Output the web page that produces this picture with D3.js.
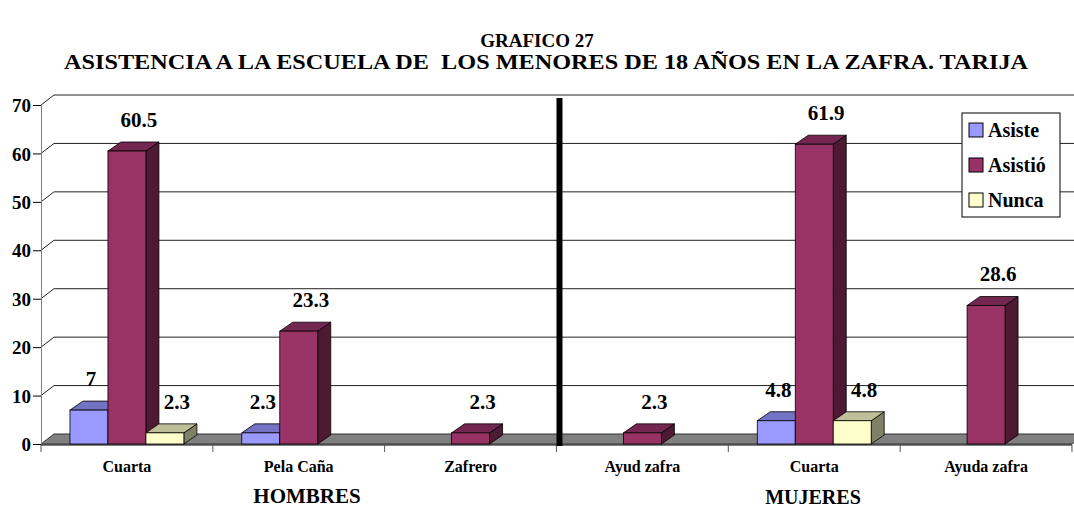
<!DOCTYPE html>
<html>
<head>
<meta charset="utf-8" />
<title>Grafico 27</title>
<script src="https://cdn.jsdelivr.net/npm/d3@7"></script>
<style>
  body { margin: 0; background: #fff; }
  .grid { stroke: #222; stroke-width: 1; fill: none; }
</style>
</head>
<body>
<div id="chart"></div>
<script>
var categories = ["Cuarta", "Pela Caña", "Zafrero", "Ayud zafra", "Cuarta", "Ayuda zafra"];
var groups = ["HOMBRES", "MUJERES"];
var seriesNames = ["Asiste", "Asistió", "Nunca"];
var asiste = [7, 2.3, null, null, 4.8, null];
var asistio = [60.5, 23.3, 2.3, 2.3, 61.9, 28.6];
var nunca = [2.3, null, null, null, 4.8, null];
var yTicks = [0, 10, 20, 30, 40, 50, 60, 70];

var seriesValues = [asiste, asistio, nunca];
var colors = [
  {front: "#9999ff", top: "#7373c4", side: "#4d4d80"},
  {front: "#993366", top: "#732650", side: "#4d1933"},
  {front: "#ffffcc", top: "#bfbf99", side: "#808066"}
];

var width = 1074, height = 509;
var left = 41, right = 1072, bottom = 444, topY = 105;
var dx = 13, dy = -10;   // wall depth
var bdx = 13, bdy = -9;  // bar depth

var svg = d3.select("#chart").append("svg")
    .attr("width", width)
    .attr("height", height);

var y = d3.scaleLinear().domain([0, 70]).range([bottom, topY]);
var x0 = d3.scaleBand().domain(d3.range(categories.length)).range([left, right])
    .paddingInner(0.337).paddingOuter(0.1686);
var x1 = d3.scaleBand().domain(d3.range(seriesNames.length)).range([0, x0.bandwidth()]);
var step = x0.step();
var boundary = function(i) { return left + i * step; };

// titles
svg.append("text").attr("x", 537).attr("y", 47).attr("text-anchor", "middle")
    .style("font-size", "19px").text("GRAFICO 27");
svg.append("text").attr("x", 546).attr("y", 69).attr("text-anchor", "middle")
    .style("font-size", "20px").attr("xml:space", "preserve")
    .attr("textLength", 964).attr("lengthAdjust", "spacingAndGlyphs")
    .text("ASISTENCIA A LA ESCUELA DE  LOS MENORES DE 18 AÑOS EN LA ZAFRA. TARIJA");

// floor
svg.append("path")
    .attr("d", "M" + left + "," + bottom + "L" + right + "," + bottom +
      "L" + (right + dx) + "," + (bottom + dy) + "L" + (left + dx) + "," + (bottom + dy) + "Z")
    .attr("fill", "#808080").attr("stroke", "#333").attr("stroke-width", 1);

// gridlines on the back wall
svg.selectAll(".grid").data(yTicks.slice(1)).enter().append("path")
    .attr("class", "grid")
    .attr("d", function(d) {
      return "M" + left + "," + y(d) + "L" + (left + dx) + "," + (y(d) + dy) + "L" + (right + dx) + "," + (y(d) + dy);
    });

// y axis
var yAxis = svg.append("g").attr("transform", "translate(" + left + ",0)")
    .call(d3.axisLeft(y).tickValues(yTicks).tickSize(8).tickPadding(2));
yAxis.select(".domain").attr("stroke", "#808080");
yAxis.selectAll(".tick line").attr("stroke", "#000");
yAxis.selectAll("text").style("font-size", "19px").attr("dy", "0.35em");

// x axis line and ticks
svg.append("line").attr("x1", left).attr("x2", right).attr("y1", bottom + 1).attr("y2", bottom + 1)
    .attr("stroke", "#000");
svg.selectAll(".xtick").data(d3.range(categories.length + 1)).enter().append("line")
    .attr("x1", boundary).attr("x2", boundary)
    .attr("y1", bottom + 1).attr("y2", bottom + 8)
    .attr("stroke", "#555");

svg.selectAll(".cat").data(categories).enter().append("text")
    .attr("x", function(d, i) { return boundary(i) + step / 2; })
    .attr("y", 472).attr("text-anchor", "middle")
    .style("font-size", "16px").text(function(d) { return d; });

svg.append("text").attr("x", 307).attr("y", 503).attr("text-anchor", "middle")
    .style("font-size", "21px").text(groups[0]);
svg.append("text").attr("x", 813).attr("y", 504).attr("text-anchor", "middle")
    .style("font-size", "20px").text(groups[1]);

// bars
var bars = [];
categories.forEach(function(c, i) {
  seriesValues.forEach(function(vals, s) {
    if (vals[i] != null) bars.push({cat: i, s: s, v: vals[i]});
  });
});

var bar = svg.selectAll(".bar").data(bars).enter().append("g").attr("class", "bar");
bar.each(function(d) {
  var g = d3.select(this);
  var xa = x0(d.cat) + x1(d.s), xb = xa + x1.bandwidth();
  var yt = y(d.v), yb = bottom;
  var col = colors[d.s];
  g.append("path")
    .attr("d", "M" + xb + "," + yb + "L" + (xb + bdx) + "," + (yb + bdy) + "L" + (xb + bdx) + "," + (yt + bdy) + "L" + xb + "," + yt + "Z")
    .attr("fill", col.side).attr("stroke", "#000").attr("stroke-width", 0.8);
  g.append("path")
    .attr("d", "M" + xa + "," + yt + "L" + xb + "," + yt + "L" + (xb + bdx) + "," + (yt + bdy) + "L" + (xa + bdx) + "," + (yt + bdy) + "Z")
    .attr("fill", col.top).attr("stroke", "#000").attr("stroke-width", 0.8);
  g.append("rect")
    .attr("x", xa).attr("y", yt).attr("width", xb - xa).attr("height", yb - yt)
    .attr("fill", col.front).attr("stroke", "#000").attr("stroke-width", 0.8);
});

// value labels
svg.selectAll(".val").data(bars).enter().append("text")
    .attr("x", function(d) { return x0(d.cat) + x1(d.s) + x1.bandwidth() / 2 + (d.s === 0 ? 2 : 12); })
    .attr("y", function(d) { return y(d.v) - 24; })
    .attr("text-anchor", "middle")
    .style("font-size", "21px")
    .text(function(d) { return d.v; });

// divider between hombres and mujeres
svg.append("rect").attr("x", boundary(3)).attr("y", 98).attr("width", 6).attr("height", 348)
    .attr("fill", "#000");

// legend
var lg = svg.append("g").attr("transform", "translate(962,113)");
lg.append("rect").attr("width", 98).attr("height", 104).attr("fill", "#fff").attr("stroke", "#000");
var li = lg.selectAll(".li").data(seriesNames).enter().append("g")
    .attr("transform", function(d, i) { return "translate(7," + (10 + i * 35) + ")"; });
li.append("rect").attr("width", 14).attr("height", 14)
    .attr("fill", function(d, i) { return colors[i].front; }).attr("stroke", "#000");
li.append("text").attr("x", 19).attr("y", 14).style("font-size", "20px").text(function(d) { return d; });

svg.selectAll("text")
    .style("font-family", "'Liberation Serif', 'Times New Roman', Times, serif")
    .style("font-weight", "bold")
    .attr("fill", "#000");
</script>
</body>
</html>
